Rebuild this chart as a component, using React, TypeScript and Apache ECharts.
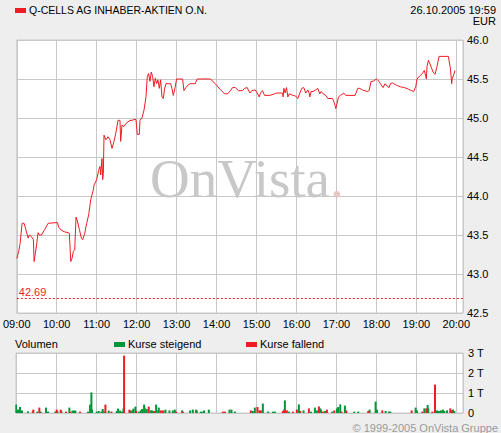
import React, { useEffect, useRef } from 'react';
import * as echarts from 'echarts';

const FONT = 'Arial, "Liberation Sans", Helvetica, sans-serif';
const SERIF = '"Times New Roman", "Liberation Serif", serif';

const titleText = 'Q-CELLS AG INHABER-AKTIEN O.N.';
const stampText = '26.10.2005 19:59';
const currencyText = 'EUR';
const copyrightText = '© 1999-2005 OnVista Gruppe';
const prevClose = 42.69;

// minutes after 09:00
const priceMinutes = [0,3,5,8,11,14,17,19,22,25,26,28,30,32,34,37,42,47,61,63,67,72,77,79,81,83,85,87,89,91,94,97,99,102,105,108,111,115,116,120,123,125,126,128,129,130,131,134,137,140,143,146,149,152,155,156,158,161,164,167,170,173,176,179,181,184,185,188,191,194,196,198,200,202,204,206,208,210,212,214,216,218,220,222,224,231,233,235,237,240,249,251,254,258,261,268,271,291,300,305,312,316,320,324,328,333,339,342,346,350,353,358,361,364,366,369,372,380,387,390,399,400,401,403,405,407,409,415,419,422,425,428,431,434,437,439,440,442,445,449,452,455,457,460,464,467,474,477,479,481,483,486,491,494,508,512,515,519,526,529,532,535,540,543,546,550,553,556,559,561,564,570,576,582,588,593,596,599,601,605,609,612,615,616,618,621,625,628,631,634,648,651,653,654,656,658];
const prices = [43.20,43.29,43.39,43.65,43.65,43.56,43.46,43.50,43.48,43.44,43.16,43.27,43.39,43.53,43.50,43.50,43.57,43.65,43.66,43.60,43.56,43.54,43.53,43.52,43.16,43.20,43.29,43.31,43.73,43.68,43.57,43.46,43.44,43.52,43.65,43.76,43.95,44.08,44.14,44.21,44.33,44.38,44.27,44.48,44.21,44.29,44.78,44.72,44.76,44.72,44.61,44.70,44.82,44.97,44.97,44.70,44.91,44.89,44.93,44.95,44.97,44.97,44.98,44.98,44.79,44.79,44.97,45.00,45.10,45.27,45.53,45.57,45.47,45.59,45.53,45.40,45.51,45.44,45.49,45.38,45.49,45.27,45.25,45.38,45.44,45.44,45.38,45.29,45.36,45.50,45.50,45.35,45.39,45.43,45.44,45.44,45.50,45.50,45.42,45.37,45.31,45.31,45.34,45.39,45.39,45.35,45.35,45.38,45.39,45.32,45.35,45.36,45.32,45.27,45.32,45.35,45.29,45.29,45.31,45.32,45.32,45.27,45.38,45.32,45.39,45.27,45.31,45.29,45.28,45.25,45.32,45.38,45.39,45.32,45.36,45.32,45.27,45.34,45.34,45.36,45.38,45.31,45.34,45.31,45.29,45.25,45.25,45.19,45.12,45.19,45.27,45.29,45.32,45.29,45.29,45.38,45.38,45.36,45.34,45.35,45.47,45.47,45.50,45.48,45.44,45.39,45.44,45.41,45.39,45.44,45.45,45.42,45.40,45.39,45.37,45.35,45.34,45.40,45.50,45.54,45.57,45.61,45.50,45.66,45.74,45.68,45.59,45.56,45.66,45.79,45.79,45.64,45.44,45.51,45.55,45.61];

// volume in thousands (T)
const risingMinutes = [0,3,6,9,18,32,37,45,48,59,62,68,80,85,87,89,108,111,113,114,121,124,128,130,132,139,151,153,156,159,161,172,174,176,179,184,187,189,192,193,196,202,204,210,211,214,221,224,230,235,238,249,261,265,270,271,277,280,282,289,320,323,328,355,358,370,378,385,388,403,409,424,431,442,448,451,456,457,463,474,481,483,486,493,507,513,530,539,541,554,559,561,599,601,612,617,618,631,634,637,640,642,646,655,657];
const risingVolumes = [0.42,0.17,0.30,0.13,0.08,0.07,0.07,0.27,0.07,0.07,0.10,0.10,0.27,0.12,0.12,0.12,0.07,0.42,1.03,0.17,0.07,0.10,0.07,0.20,0.07,0.12,0.10,0.22,0.12,0.07,0.22,0.12,0.12,0.22,0.32,0.07,0.13,0.20,0.42,0.27,0.20,0.13,0.13,0.42,0.13,0.27,0.10,0.17,0.13,0.13,0.17,0.13,0.13,0.17,0.17,0.12,0.07,0.07,0.13,0.17,0.17,0.17,0.07,0.10,0.27,0.47,0.07,0.07,0.07,0.63,0.07,0.43,0.13,0.07,0.27,0.13,0.23,0.17,0.10,0.07,0.23,0.30,0.43,0.37,0.07,0.07,0.17,0.57,0.17,0.10,0.07,0.07,0.27,0.13,0.23,0.40,0.23,0.13,0.10,0.13,0.17,0.10,0.13,0.17,0.10];
const fallingMinutes = [25,26,35,61,67,75,82,96,134,143,162,170,180,199,207,217,220,240,250,310,313,352,362,365,367,400,402,406,415,421,426,439,454,460,466,477,488,495,528,549,593,609,615,624,628,651,653];
const fallingVolumes = [0.08,0.17,0.27,0.17,0.17,0.07,0.07,0.07,0.42,0.07,2.87,0.17,0.10,0.32,0.10,0.13,0.13,0.07,0.07,0.07,0.07,0.13,0.30,0.13,0.13,0.10,0.17,0.13,0.07,0.17,0.10,0.23,0.33,0.07,0.17,0.13,0.07,0.13,0.10,0.13,0.13,0.07,0.23,0.07,1.42,0.23,0.13];

const RED = '#ee1c24';
const GREEN = '#00973a';
const GRID = '#c8c8c8';

const hourLabel = (v: number) => {
  if (v % 60 !== 0) return '';
  const h = 9 + v / 60;
  return (h < 10 ? '0' : '') + h + ':00';
};

export default function App() {
  const ref = useRef<HTMLDivElement>(null);
  useEffect(() => {
    const chart = echarts.init(ref.current!, undefined, { renderer: 'svg' });
    const xBase = {
      type: 'value', min: 0, max: 670, interval: 60,
      axisLine: { show: false }, axisTick: { show: false },
      splitLine: { show: true, lineStyle: { color: GRID, width: 1 } },
    };
    chart.setOption({
      animation: false,
      backgroundColor: '#eeeeee',
      textStyle: { fontFamily: FONT },
      grid: [
        { left: 16, top: 40, width: 447, height: 273, show: true, backgroundColor: '#ffffff', borderColor: GRID, borderWidth: 1 },
        { left: 16, top: 353, width: 447, height: 60, show: true, backgroundColor: '#ffffff', borderColor: GRID, borderWidth: 1 },
      ],
      xAxis: [
        { ...xBase, gridIndex: 0, axisLabel: { formatter: hourLabel, color: '#000', fontSize: 11, margin: 5, fontFamily: FONT } },
        { ...xBase, gridIndex: 1, axisLabel: { show: false } },
      ],
      yAxis: [
        {
          type: 'value', gridIndex: 0, position: 'right', min: 42.5, max: 46, interval: 0.5,
          axisLine: { show: false }, axisTick: { show: false },
          splitLine: { show: true, lineStyle: { color: GRID, width: 1 } },
          axisLabel: { formatter: (v: number) => v.toFixed(1), color: '#000', fontSize: 11, margin: 4, fontFamily: FONT },
        },
        {
          type: 'value', gridIndex: 1, position: 'right', min: 0, max: 3, interval: 1,
          axisLine: { show: false }, axisTick: { show: false },
          splitLine: { show: true, lineStyle: { color: GRID, width: 1 } },
          axisLabel: { formatter: (v: number) => (v === 0 ? '0' : v + ' T'), color: '#000', fontSize: 11, margin: 5, fontFamily: FONT },
        },
      ],
      series: [
        {
          type: 'line', xAxisIndex: 0, yAxisIndex: 0, z: 3,
          data: priceMinutes.map((m, i) => [m, prices[i]]),
          showSymbol: false, symbol: 'none',
          lineStyle: { color: RED, width: 1 },
          markLine: {
            silent: true, symbol: 'none',
            data: [{ yAxis: prevClose }],
            lineStyle: { color: RED, type: [2, 2], width: 1 },
            label: { show: true, position: 'insideStartTop', formatter: prevClose.toFixed(2), color: RED, fontSize: 11, fontFamily: FONT, distance: [2, 1] },
          },
        },
        {
          type: 'bar', name: 'Kurse steigend', xAxisIndex: 1, yAxisIndex: 1,
          data: risingMinutes.map((m, i) => [m, risingVolumes[i]]),
          barWidth: 2, barGap: '-100%', itemStyle: { color: GREEN },
        },
        {
          type: 'bar', name: 'Kurse fallend', xAxisIndex: 1, yAxisIndex: 1,
          data: fallingMinutes.map((m, i) => [m, fallingVolumes[i]]),
          barWidth: 2, barGap: '-100%', itemStyle: { color: RED },
        },
      ],
      graphic: [
        { type: 'text', z: 1, x: 150, y: 178, style: { text: 'OnVista', font: `55px ${SERIF}`, fill: '#c8c8c8', verticalAlign: 'middle' } },
        { type: 'text', z: 1, x: 330, y: 178, style: { text: '.', font: `55px ${SERIF}`, fill: '#e8c6c6', verticalAlign: 'middle' } },
        { type: 'rect', shape: { x: 15, y: 8, width: 11, height: 5 }, style: { fill: RED } },
        { type: 'text', x: 29, y: 10, style: { text: titleText, font: `10.5px ${FONT}`, fill: '#000', verticalAlign: 'middle' } },
        { type: 'text', x: 496, y: 10, style: { text: stampText, font: `11px ${FONT}`, fill: '#000', align: 'right', verticalAlign: 'middle' } },
        { type: 'text', x: 496, y: 21, style: { text: currencyText, font: `11px ${FONT}`, fill: '#000', align: 'right', verticalAlign: 'middle' } },
        { type: 'text', x: 15, y: 344, style: { text: 'Volumen', font: `11px ${FONT}`, fill: '#000', verticalAlign: 'middle' } },
        { type: 'rect', shape: { x: 114, y: 342, width: 11, height: 5 }, style: { fill: GREEN } },
        { type: 'text', x: 128, y: 344, style: { text: 'Kurse steigend', font: `11px ${FONT}`, fill: '#000', verticalAlign: 'middle' } },
        { type: 'rect', shape: { x: 246, y: 342, width: 11, height: 5 }, style: { fill: RED } },
        { type: 'text', x: 260, y: 344, style: { text: 'Kurse fallend', font: `11px ${FONT}`, fill: '#000', verticalAlign: 'middle' } },
        { type: 'text', x: 498, y: 428, style: { text: copyrightText, font: `11px ${FONT}`, fill: '#9a9a9a', align: 'right', verticalAlign: 'middle' } },
      ],
    });
    return () => chart.dispose();
  }, []);
  return (
    <div
      ref={ref}
      style={{ position: 'fixed', left: 0, top: 0, width: 501, height: 433, background: '#eeeeee' }}
    />
  );
}
